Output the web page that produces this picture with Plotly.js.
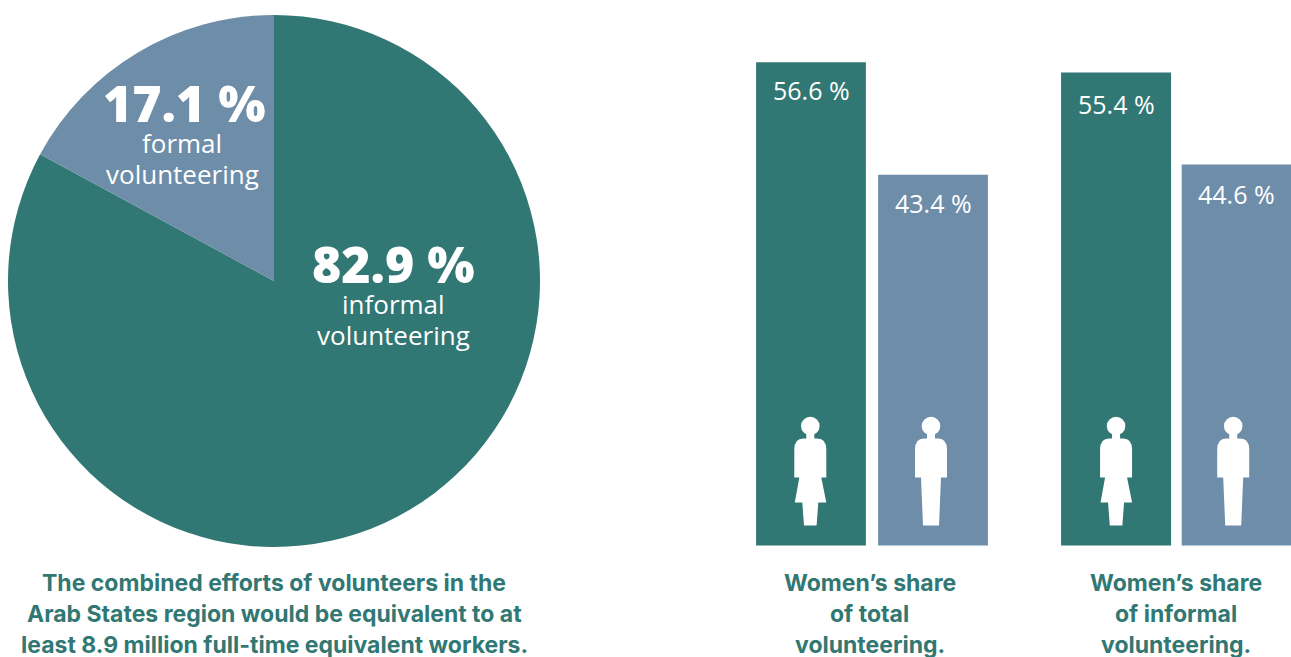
<!DOCTYPE html>
<html><head><meta charset="utf-8">
<script src="https://cdn.plot.ly/plotly-3.0.1.min.js"></script>
<style>html,body{margin:0;padding:0;background:#fff;overflow:hidden}#c{width:1291px;height:657px}</style>
</head><body><div id="c"></div>
<script>
const TEAL='#317773', BLUE='#6E8DA9';
const pieLabels=['informal volunteering','formal volunteering'];
const pieValues=[82.9,17.1];
const genders=['Women','Men'];
const totalShare=[56.6,43.4];
const informalShare=[55.4,44.6];
const W=1291,H=657,base=545.5,pxPerUnit=8.54;
const BODY='Inter, sans-serif', SANS='"Open Sans", sans-serif';
const CAP=23;

const traces=[
 {type:'pie',labels:pieLabels,values:pieValues,sort:false,direction:'clockwise',rotation:0,
  marker:{colors:[TEAL,BLUE],line:{width:0}},textinfo:'none',hoverinfo:'label+percent',showlegend:false,
  domain:{x:[8/W,540/W],y:[1-547/H,1-15/H]}},
 {type:'bar',x:genders,y:totalShare,xaxis:'x',yaxis:'y',width:0.9,marker:{color:[TEAL,BLUE],line:{width:0}},showlegend:false},
 {type:'bar',x:genders,y:informalShare,xaxis:'x2',yaxis:'y',width:0.912,marker:{color:[TEAL,BLUE],line:{width:0}},showlegend:false}
];

function txt(x,y,text,size,font,weight,color){
 return {xref:'paper',yref:'paper',x:x/W,y:1-y/H,xanchor:'center',yanchor:'middle',showarrow:false,text:text,
  font:{size:size,family:font,weight:weight,color:color}};
}
function barLabel(ax,cat,val,offset){
 return {xref:ax,yref:'y',x:cat,y:val,xanchor:'center',yanchor:'middle',yshift:-offset,showarrow:false,
  text:val.toFixed(1)+' %',font:{size:25,family:SANS,color:'#fff'}};
}
const annotations=[
 txt(184,103,'17.1 %',50,SANS,800,'#fff'),
 txt(182,143,'formal',26,SANS,400,'#fff'),
 txt(182,174,'volunteering',26,SANS,400,'#fff'),
 txt(393,264,'82.9 %',50,SANS,800,'#fff'),
 txt(393,304,'informal',26,SANS,400,'#fff'),
 txt(393,335,'volunteering',26,SANS,400,'#fff'),
 txt(274,583,'The combined efforts of volunteers in the',CAP,BODY,700,TEAL),
 txt(274,614,'Arab States region would be equivalent to at',CAP,BODY,700,TEAL),
 txt(274,645,'least 8.9 million full-time equivalent workers.',CAP,BODY,700,TEAL),
 txt(870,583,'Women’s share',CAP,BODY,700,TEAL),
 txt(870,614,'of total',CAP,BODY,700,TEAL),
 txt(870,645,'volunteering.',CAP,BODY,700,TEAL),
 txt(1176,583,'Women’s share',CAP,BODY,700,TEAL),
 txt(1176,614,'of informal',CAP,BODY,700,TEAL),
 txt(1176,645,'volunteering.',CAP,BODY,700,TEAL),
 barLabel('x','Women',totalShare[0],28),
 barLabel('x','Men',totalShare[1],28.5),
 barLabel('x2','Women',informalShare[0],32),
 barLabel('x2','Men',informalShare[1],29.5)
];

// icon geometry: pixel offsets from the bar centre and bar base (positive is up)
function bodyPath(cx,woman){
 const p=(x,y)=>(cx+x)+','+y;
 const torso='M'+p(-4,112)+' L'+p(4,112)+' L'+p(4,107)+' L'+p(7,107)+' Q'+p(16,107)+' '+p(16,96)+' L'+p(16,68)+' ';
 const lower=woman
  ? 'L'+p(11,68)+' L'+p(16,43)+' L'+p(8,43)+' L'+p(6.3,20)+' L'+p(-6.3,20)+' L'+p(-8,43)+' L'+p(-15.5,43)+' L'+p(-11,68)+' '
  : 'L'+p(10,68)+' L'+p(8,20)+' L'+p(-8,20)+' L'+p(-10,68)+' ';
 return torso+lower+'L'+p(-16,68)+' L'+p(-16,96)+' Q'+p(-16,107)+' '+p(-7,107)+' L'+p(-4,107)+' Z';
}
function icon(ax,cat,cx,woman){
 const common={xref:ax,yref:'y',xsizemode:'pixel',ysizemode:'pixel',xanchor:cat,yanchor:0,fillcolor:'#fff',line:{width:0},layer:'above'};
 return [
  Object.assign({type:'circle',x0:cx-9.3,x1:cx+9.3,y0:110.2,y1:128.8},common),
  Object.assign({type:'path',path:bodyPath(cx,woman)},common)
 ];
}
const shapes=[].concat(
 icon('x','Women',-0.7,true),icon('x','Men',-2,false),
 icon('x2','Women',0,true),icon('x2','Men',-3.5,false));

const hidden={visible:false,fixedrange:true};
const layout={
 width:W,height:H,margin:{l:0,r:0,t:0,b:0},paper_bgcolor:'#fff',plot_bgcolor:'rgba(0,0,0,0)',showlegend:false,
 xaxis:Object.assign({type:'category',categoryorder:'array',categoryarray:genders,range:[-0.5,1.5],domain:[750/W,994/W],anchor:'y'},hidden),
 xaxis2:Object.assign({type:'category',categoryorder:'array',categoryarray:genders,range:[-0.5,1.45],domain:[1055.75/W,1],anchor:'y'},hidden),
 yaxis:Object.assign({range:[-(H-base)/pxPerUnit,base/pxPerUnit],domain:[0,1]},hidden),
 annotations:annotations,shapes:shapes
};
Plotly.newPlot('c',traces,layout,{displayModeBar:false,staticPlot:true});
</script></body></html>
